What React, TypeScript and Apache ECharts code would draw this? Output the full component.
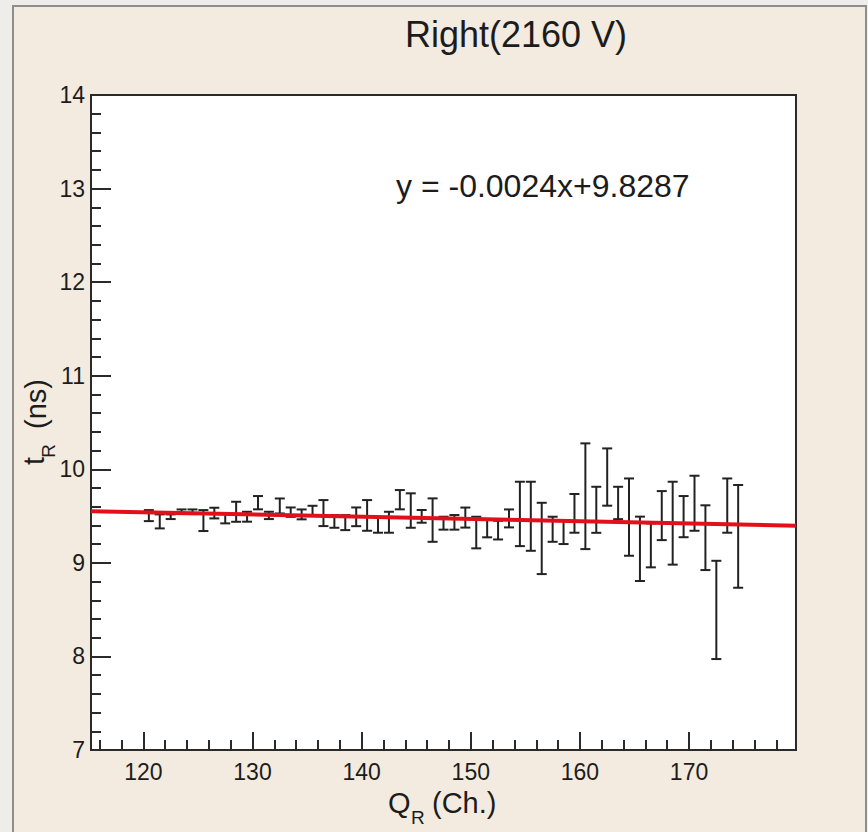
import React, { useEffect, useRef } from "react";
import * as echarts from "echarts";

const xValues = [
  120.5, 121.5, 122.5, 123.5, 124.5, 125.5, 126.5, 127.5, 128.5, 129.5,
  130.5, 131.5, 132.5, 133.5, 134.5, 135.5, 136.5, 137.5, 138.5, 139.5,
  140.5, 141.5, 142.5, 143.5, 144.5, 145.5, 146.5, 147.5, 148.5, 149.5,
  150.5, 151.5, 152.5, 153.5, 154.5, 155.5, 156.5, 157.5, 158.5, 159.5,
  160.5, 161.5, 162.5, 163.5, 164.5, 165.5, 166.5, 167.5, 168.5, 169.5,
  170.5, 171.5, 172.5, 173.5, 174.5,
];
const yMeans = [
  9.505, 9.443, 9.493, 9.546, 9.546, 9.452, 9.532, 9.475, 9.546, 9.493,
  9.643, 9.507, 9.608, 9.542, 9.518, 9.56, 9.532, 9.443, 9.43, 9.492,
  9.507, 9.404, 9.434, 9.675, 9.559, 9.497, 9.457, 9.424, 9.433, 9.484,
  9.324, 9.369, 9.35, 9.475, 9.523, 9.498, 9.261, 9.359, 9.326, 9.529,
  9.712, 9.567, 9.917, 9.64, 9.489, 9.15, 9.187, 9.505, 9.424, 9.494,
  9.637, 9.269, 8.497, 9.612, 9.283,
];
const yErrors = [
  0.059, 0.075, 0.025, 0.025, 0.025, 0.112, 0.057, 0.053, 0.107, 0.053,
  0.071, 0.039, 0.08, 0.05, 0.053, 0.05, 0.139, 0.068, 0.08, 0.1,
  0.164, 0.082, 0.112, 0.103, 0.184, 0.068, 0.232, 0.069, 0.078, 0.107,
  0.169, 0.096, 0.1, 0.096, 0.344, 0.369, 0.381, 0.134, 0.125, 0.207,
  0.565, 0.246, 0.306, 0.173, 0.413, 0.344, 0.235, 0.262, 0.443, 0.22,
  0.294, 0.346, 0.525, 0.29, 0.549,
];
const xMajorTicks = [120, 130, 140, 150, 160, 170];
const xMinorTicks = [
  116, 118, 122, 124, 126, 128, 132, 134, 136, 138, 142, 144, 146, 148,
  152, 154, 156, 158, 162, 164, 166, 168, 172, 174, 176, 178,
];
const xRange = [115.2, 179.8];
const yRange = [7, 14];
const fitSlope = -0.0024;
const fitIntercept = 9.8287;
const titleText = "Right(2160 V)";
const fitLabel = "y = -0.0024x+9.8287";

const FONT = "'Liberation Sans', Arial, Helvetica, sans-serif";
const TXT = "#1c1c1c";

export default function App() {
  const ref = useRef<HTMLDivElement>(null);

  useEffect(() => {
    document.body.style.margin = "0";
    if (!ref.current) return;
    const chart = echarts.init(ref.current, null, { renderer: "svg" });

    const errData = xValues.map((x, i) => [x, yMeans[i], yErrors[i]]);
    const fitData = [
      [xRange[0], fitSlope * xRange[0] + fitIntercept],
      [xRange[1], fitSlope * xRange[1] + fitIntercept],
    ];

    const baseX = {
      type: "value" as const,
      min: xRange[0],
      max: xRange[1],
      position: "bottom" as const,
      splitLine: { show: false },
    };

    chart.setOption({
      animation: false,
      backgroundColor: "transparent",
      grid: {
        left: 91,
        top: 95,
        width: 705,
        height: 655,
        show: true,
        backgroundColor: "#ffffff",
        borderColor: "#2a2a2a",
        borderWidth: 2,
      },
      xAxis: [
        {
          ...baseX,
          axisLine: { show: true, lineStyle: { color: "#2a2a2a", width: 2 } },
          axisTick: {
            show: true,
            inside: true,
            length: 18,
            customValues: xMajorTicks,
            lineStyle: { color: "#2a2a2a", width: 2 },
          },
          axisLabel: {
            show: true,
            customValues: xMajorTicks,
            fontSize: 23,
            fontFamily: FONT,
            color: TXT,
            margin: 10,
          },
        },
        {
          ...baseX,
          axisLine: { show: false },
          axisTick: {
            show: true,
            inside: true,
            length: 10,
            customValues: xMinorTicks,
            lineStyle: { color: "#2a2a2a", width: 2 },
          },
          axisLabel: { show: false },
        },
      ],
      yAxis: {
        type: "value",
        min: yRange[0],
        max: yRange[1],
        interval: 1,
        axisLine: { show: true, lineStyle: { color: "#2a2a2a", width: 2 } },
        axisTick: {
          show: true,
          inside: true,
          length: 20,
          lineStyle: { color: "#2a2a2a", width: 2 },
        },
        minorTick: {
          show: true,
          splitNumber: 5,
          length: 10,
          lineStyle: { color: "#2a2a2a", width: 2 },
        },
        splitLine: { show: false },
        minorSplitLine: { show: false },
        axisLabel: {
          fontSize: 23,
          fontFamily: FONT,
          color: TXT,
          margin: 6,
        },
      },
      series: [
        {
          type: "custom",
          xAxisIndex: 0,
          yAxisIndex: 0,
          data: errData,
          encode: { x: 0, y: 1 },
          z: 2,
          renderItem: (params: any, api: any) => {
            const x = api.value(0);
            const y = api.value(1);
            const e = api.value(2);
            const top = api.coord([x, y + e]);
            const bot = api.coord([x, y - e]);
            const hw = 5;
            const style = { stroke: "#222222", lineWidth: 2 };
            return {
              type: "group",
              children: [
                { type: "line", shape: { x1: top[0], y1: top[1], x2: bot[0], y2: bot[1] }, style },
                { type: "line", shape: { x1: top[0] - hw, y1: top[1], x2: top[0] + hw, y2: top[1] }, style },
                { type: "line", shape: { x1: bot[0] - hw, y1: bot[1], x2: bot[0] + hw, y2: bot[1] }, style },
              ],
            };
          },
        },
        {
          type: "line",
          xAxisIndex: 0,
          yAxisIndex: 0,
          data: fitData,
          showSymbol: false,
          symbol: "none",
          z: 5,
          lineStyle: { color: "#e2101a", width: 4 },
        },
      ],
      graphic: [
        {
          type: "text",
          x: 516,
          y: 34,
          style: {
            text: titleText,
            fontSize: 36,
            fontFamily: FONT,
            fill: TXT,
            align: "center",
            verticalAlign: "middle",
          },
        },
        {
          type: "text",
          x: 396,
          y: 186,
          z: 10,
          style: {
            text: fitLabel,
            fontSize: 32,
            fontFamily: FONT,
            fill: TXT,
            align: "left",
            verticalAlign: "middle",
          },
        },
        // x axis title: Q_R (Ch.)
        {
          type: "text",
          x: 388,
          y: 803,
          style: { text: "Q", fontSize: 29, fontFamily: FONT, fill: TXT, align: "left", verticalAlign: "middle" },
        },
        {
          type: "text",
          x: 411,
          y: 817,
          style: { text: "R", fontSize: 19, fontFamily: FONT, fill: TXT, align: "left", verticalAlign: "middle" },
        },
        {
          type: "text",
          x: 432,
          y: 803,
          style: { text: "(Ch.)", fontSize: 29, fontFamily: FONT, fill: TXT, align: "left", verticalAlign: "middle" },
        },
        // y axis title: t_R (ns)
        {
          type: "text",
          x: 34,
          y: 461,
          rotation: Math.PI / 2,
          style: { text: "t", fontSize: 29, fontFamily: FONT, fill: TXT, align: "center", verticalAlign: "middle" },
        },
        {
          type: "text",
          x: 48,
          y: 451,
          rotation: Math.PI / 2,
          style: { text: "R", fontSize: 19, fontFamily: FONT, fill: TXT, align: "center", verticalAlign: "middle" },
        },
        {
          type: "text",
          x: 36,
          y: 404,
          rotation: Math.PI / 2,
          style: { text: "(ns)", fontSize: 29, fontFamily: FONT, fill: TXT, align: "center", verticalAlign: "middle" },
        },
      ],
    });

    return () => chart.dispose();
  }, []);

  return (
    <div
      style={{
        position: "relative",
        width: 868,
        height: 832,
        overflow: "hidden",
        background: "#eeede9",
      }}
    >
      <div
        style={{
          position: "absolute",
          left: 12,
          top: 5,
          width: 851,
          height: 860,
          border: "2px solid #8e8e8e",
          background: "#f3ebdf",
        }}
      />
      <div
        ref={ref}
        style={{ position: "absolute", left: 0, top: 0, width: 868, height: 832 }}
      />
    </div>
  );
}
